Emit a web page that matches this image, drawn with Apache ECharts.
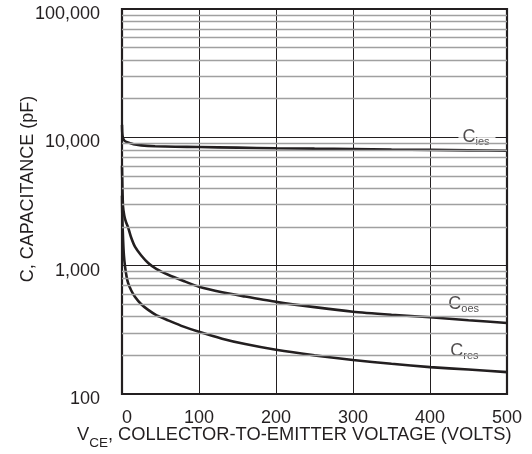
<!DOCTYPE html>
<html>
<head>
<meta charset="utf-8">
<script src="https://cdn.jsdelivr.net/npm/echarts@6/dist/echarts.min.js"></script>
<style>
  html, body { margin: 0; padding: 0; background: #fff; }
  #chart { width: 532px; height: 454px; }
</style>
</head>
<body>
<div id="chart"></div>
<script>
// Capacitance vs collector-to-emitter voltage (log scale)
const ciesV = [0, 0.3, 0.8, 1.5, 3, 5, 8, 12, 17, 25, 43, 69, 100, 150, 200, 250, 300, 350, 400, 450, 500];
const ciesC = [12500, 11000, 10200, 9800, 9450, 9250, 9130, 8950, 8780, 8650, 8530, 8450, 8400, 8310, 8220, 8160, 8110, 8040, 7980, 7920, 7870];

const coesV = [0, 0.5, 1.3, 3, 5, 8, 12, 17, 25, 34, 45, 60, 80, 100, 130, 160, 200, 250, 300, 350, 400, 450, 500];
const coesC = [6000, 4200, 2900, 2450, 2200, 1980, 1650, 1400, 1200, 1050, 940, 850, 760, 685, 620, 575, 522, 475, 438, 415, 396, 376, 357];

const cresV = [0, 0.5, 1.5, 2.5, 4, 6, 8, 12, 17, 25, 34, 45, 60, 80, 100, 130, 160, 200, 250, 300, 350, 400, 450, 500];
const cresC = [3500, 2300, 1550, 1200, 980, 820, 730, 640, 570, 500, 452, 410, 375, 335, 305, 270, 245, 221, 200, 184, 172, 162, 155, 148];

// minor (2..9 x decade) horizontal grid values
const minorGrid = [200, 300, 400, 500, 600, 700, 800, 900,
                   2000, 3000, 4000, 5000, 6000, 7000, 8000, 9000,
                   20000, 30000, 40000, 50000, 60000, 70000, 80000, 90000];

// curve name labels
const labelSubs = ['ies', 'oes', 'res'];
const labelX = [461, 445, 446];
const labelY = [10000, 500, 218];

const xTicks = [0, 100, 200, 300, 400, 500];
const yTicks = ['100', '1,000', '10,000', '100,000'];

const FONT = '"Liberation Sans", Arial, Helvetica, sans-serif';
const INK = '#231f20';

function pairs(xs, ys) { return xs.map((x, i) => [x, ys[i]]); }

const curveStyle = { color: INK, width: 2.6 };

const chart = echarts.init(document.getElementById('chart'), null, { renderer: 'canvas' });

chart.setOption({
  animation: false,
  backgroundColor: '#fff',
  grid: {
    left: 122, right: 25, top: 9, bottom: 60,
    show: true, borderColor: INK, borderWidth: 2.2, backgroundColor: 'transparent'
  },
  xAxis: {
    type: 'value', min: 0, max: 500, interval: 100,
    axisLine: { show: false }, axisTick: { show: false },
    splitLine: { show: true, lineStyle: { color: INK, width: 1 } },
    axisLabel: {
      color: INK, fontFamily: FONT, fontSize: 18, margin: 15,
      showMinLabel: true, showMaxLabel: true,
      formatter: v => (v === 0 ? '{z|0}' : '{n|' + xTicks[v / 100] + '}'),
      rich: {
        z: { color: INK, fontFamily: FONT, fontSize: 18, padding: [0, 0, 0, 10] },
        n: { color: INK, fontFamily: FONT, fontSize: 18 }
      }
    }
  },
  yAxis: {
    type: 'log', logBase: 10, min: 100, max: 100000,
    axisLine: { show: false }, axisTick: { show: false },
    splitLine: { show: true, lineStyle: { color: INK, width: 1 } },
    axisLabel: {
      color: INK, fontFamily: FONT, fontSize: 18, margin: 22,
      formatter: v => '{t|' + yTicks[Math.round(Math.log10(v)) - 2] + '}',
      rich: { t: { color: INK, fontFamily: FONT, fontSize: 18, padding: [10, 0, 0, 0] } }
    }
  },
  graphic: [
    {
      type: 'text', left: 77, top: 426,
      style: {
        text: '{v|V}{s|CE}{v|, COLLECTOR-TO-EMITTER VOLTAGE (VOLTS)}',
        rich: {
          v: { fontFamily: FONT, fontSize: 18.3, fill: INK, lineHeight: 20, verticalAlign: 'top' },
          s: { fontFamily: FONT, fontSize: 13.5, fill: INK, lineHeight: 20, verticalAlign: 'top', padding: [10, 0, 0, 0] }
        }
      }
    },
    {
      type: 'text', x: 28, y: 189, rotation: Math.PI / 2,
      style: {
        text: 'C, CAPACITANCE (pF)', fontFamily: FONT, fontSize: 18, fill: INK,
        textAlign: 'center', textVerticalAlign: 'middle'
      }
    }
  ],
  series: [
    {
      name: 'minor grid', type: 'line', data: [], z: 1, silent: true,
      markLine: {
        silent: true, symbol: 'none', animation: false,
        label: { show: false },
        lineStyle: { color: '#a0a0a0', width: 1.3, type: 'solid' },
        emphasis: { disabled: true },
        data: minorGrid.map(v => ({ yAxis: v }))
      }
    },
    {
      name: 'curve labels', type: 'scatter', z: 1.5, symbolSize: 0, silent: true,
      data: labelX.map((x, i) => ({ value: [x, labelY[i]], sub: labelSubs[i] })),
      label: {
        show: true, position: 'inside',
        fontFamily: FONT, fontSize: 18, color: INK,
        backgroundColor: '#fff', padding: [3, 6, 3, 4],
        formatter: p => '{big|C}{sub|' + p.data.sub + '}',
        rich: {
          big: { fontFamily: FONT, fontSize: 18, color: INK, lineHeight: 20 },
          sub: { fontFamily: FONT, fontSize: 11, color: INK, lineHeight: 20, padding: [10, 0, 0, 0] }
        }
      }
    },
    {
      name: 'Cies', type: 'line', z: 3, data: pairs(ciesV, ciesC),
      showSymbol: false, smooth: 0.2, lineStyle: curveStyle
    },
    {
      name: 'Coes', type: 'line', z: 3, data: pairs(coesV, coesC),
      showSymbol: false, smooth: 0.2, lineStyle: curveStyle
    },
    {
      name: 'Cres', type: 'line', z: 3, data: pairs(cresV, cresC),
      showSymbol: false, smooth: 0.2, lineStyle: curveStyle
    }
  ]
});
</script>
</body>
</html>
